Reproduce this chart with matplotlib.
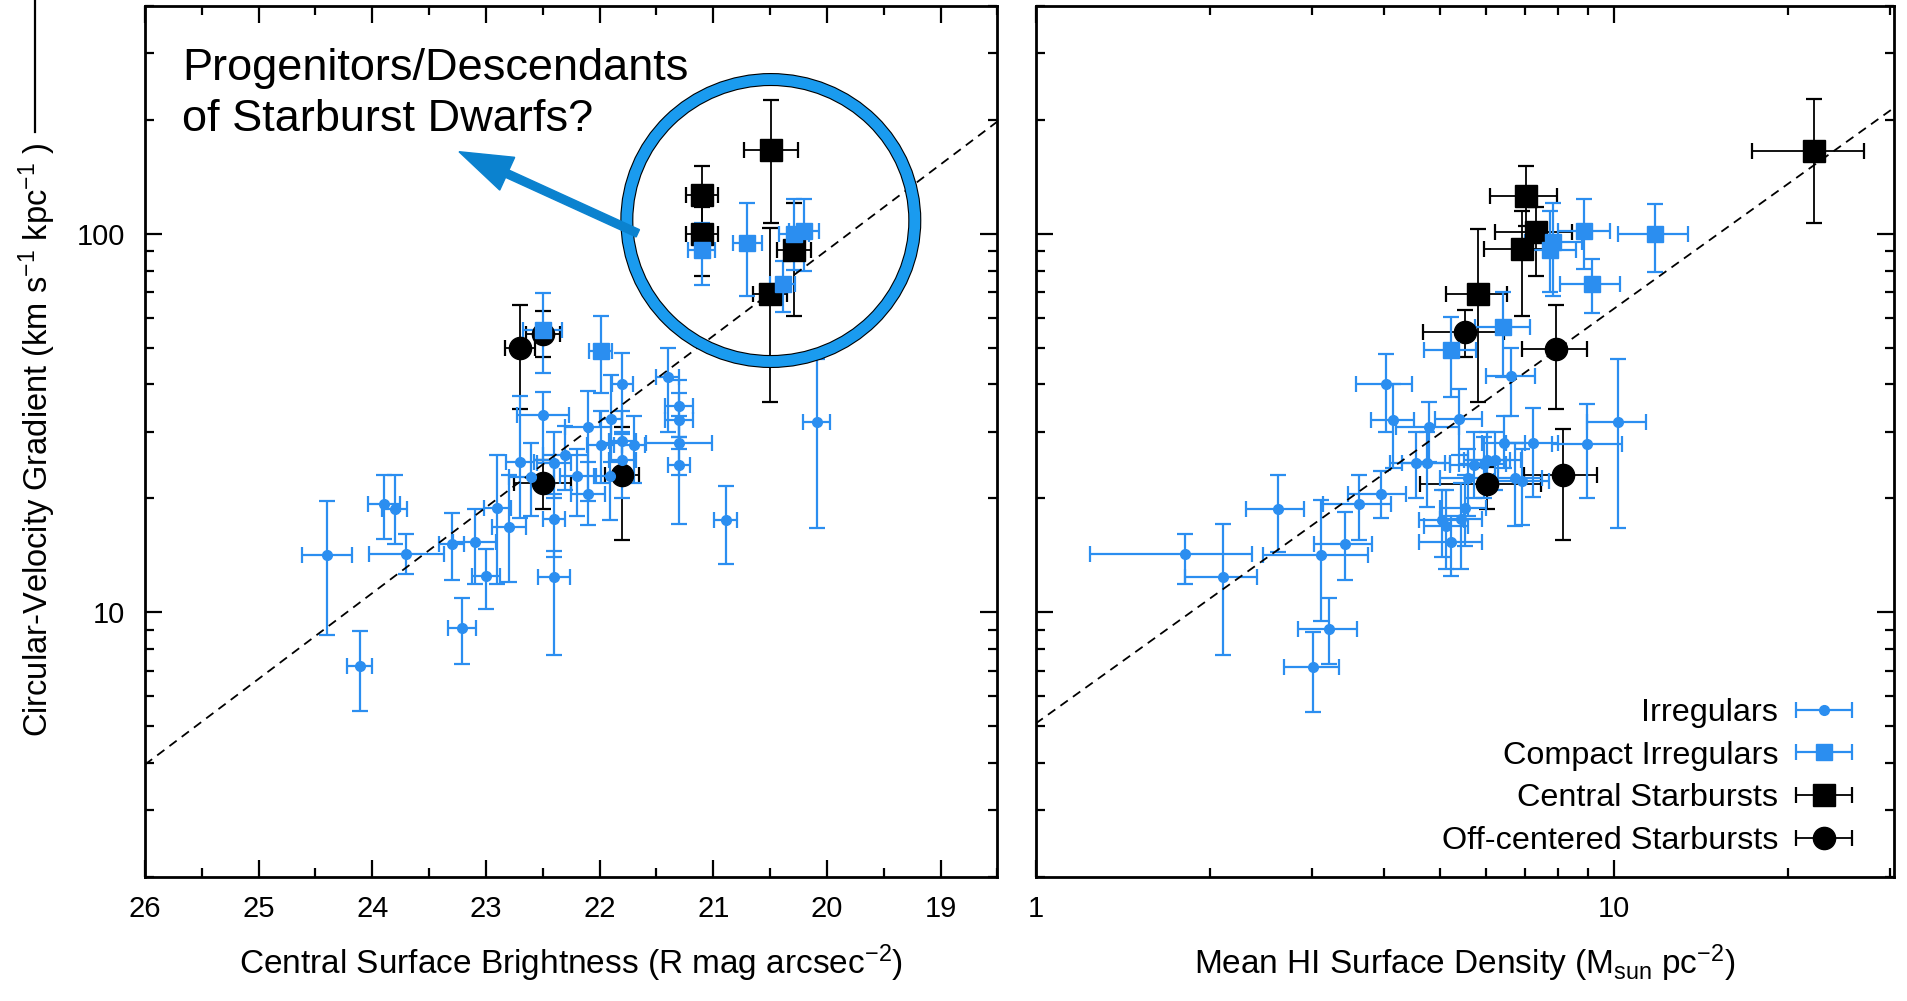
import numpy as np
import matplotlib
matplotlib.use("Agg")
import matplotlib.pyplot as plt
from matplotlib.patches import Ellipse, FancyArrow
from matplotlib.lines import Line2D
from matplotlib.container import ErrorbarContainer
from matplotlib.legend_handler import HandlerErrorbar
from matplotlib.ticker import FixedLocator, NullFormatter, FixedFormatter
from matplotlib.transforms import IdentityTransform

plt.rcParams['font.family'] = ['Liberation Sans', 'DejaVu Sans']
plt.rcParams['mathtext.fontset'] = 'custom'
plt.rcParams['mathtext.rm'] = 'Liberation Sans'
plt.rcParams['mathtext.it'] = 'Liberation Sans:italic'

BLUE = '#2b8ef0'

# ---- left panel: central surface brightness (R mag/arcsec^2) ----
irr_mu = [24.40, 24.11, 23.90, 23.80, 23.70, 23.30, 23.10, 23.00, 23.21, 22.90,
          22.80, 22.40, 22.40, 22.70, 22.60, 22.50, 22.40, 22.30, 22.20, 22.10,
          22.10, 21.99, 21.90, 21.91, 21.80, 21.80, 21.80, 21.70, 21.40, 21.30,
          21.30, 21.30, 21.30, 20.89, 20.09]
irr_mu_err = [0.22, 0.11, 0.14, 0.11, 0.33, 0.11, 0.19, 0.12, 0.12, 0.12,
              0.15, 0.14, 0.10, 0.12, 0.20, 0.23, 0.15, 0.20, 0.15, 0.15,
              0.20, 0.12, 0.10, 0.12, 0.09, 0.12, 0.12, 0.10, 0.10, 0.12,
              0.12, 0.29, 0.10, 0.10, 0.12]
irr_grad_a = [14.2, 7.2, 19.3, 18.8, 14.3, 15.2, 15.3, 12.5, 9.1, 18.9,
              16.8, 12.4, 17.6, 25.0, 22.8, 33.3, 24.8, 26.1, 22.9, 20.6,
              30.8, 27.7, 32.4, 22.9, 40.0, 28.4, 25.3, 27.7, 41.8, 35.0,
              32.3, 28.1, 24.5, 17.5, 31.8]
irr_grad_a_lo = [8.7, 5.5, 15.6, 15.2, 12.6, 12.2, 11.9, 10.2, 7.3, 11.9,
                 12.0, 7.7, 14.0, 17.8, 18.0, 25.2, 20.0, 21.0, 18.0, 17.0,
                 19.7, 22.0, 25.0, 17.5, 29.6, 23.0, 20.0, 22.0, 30.0, 29.0,
                 27.0, 23.0, 17.1, 13.4, 16.7]
irr_grad_a_hi = [19.7, 8.9, 23.1, 23.1, 16.1, 18.3, 18.7, 14.7, 10.9, 26.0,
                 23.0, 14.5, 20.5, 37.4, 28.0, 38.1, 30.0, 31.0, 27.0, 25.0,
                 38.4, 34.0, 42.3, 28.0, 48.3, 34.0, 30.0, 33.0, 50.0, 41.0,
                 38.0, 33.0, 29.0, 21.6, 46.8]

bcd_mu = [22.50, 21.99, 20.70, 21.10, 20.29, 20.20, 20.39]
bcd_mu_err = [0.17, 0.10, 0.13, 0.12, 0.13, 0.13, 0.11]
bcd_grad_a = [55.6, 49.0, 94.8, 90.4, 100.0, 102.0, 73.8]
bcd_grad_a_lo = [43.0, 38.0, 68.4, 73.4, 80.4, 80.0, 62.0]
bcd_grad_a_hi = [69.6, 60.5, 121.0, 107.0, 124.0, 124.0, 85.0]

csb_mu = [20.49, 21.10, 21.10, 20.29, 20.50]
csb_mu_err = [0.24, 0.14, 0.14, 0.15, 0.15]
csb_grad_a = [167.0, 126.5, 100.0, 90.8, 69.5]
csb_grad_a_lo = [106.6, 106.0, 77.6, 60.5, 35.9]
csb_grad_a_hi = [226.0, 151.0, 118.0, 121.0, 103.5]

osb_mu = [22.70, 22.50, 21.80, 22.50]
osb_mu_err = [0.13, 0.15, 0.15, 0.25]
osb_grad_a = [49.9, 54.5, 23.1, 21.9]
osb_grad_a_lo = [34.5, 47.2, 15.5, 18.7]
osb_grad_a_hi = [65.0, 62.7, 30.8, 25.3]

fit_mu = [26.0, 18.5]
fit_mu_grad = [3.96, 198.0]

# ---- right panel: mean HI surface density (Msun/pc^2) ----
irr_hi = [1.81, 2.11, 2.62, 3.12, 3.22, 3.02, 3.42, 3.62, 3.95, 4.03,
          4.14, 4.78, 4.55, 4.75, 5.40, 5.73, 5.60, 5.52, 5.03, 5.13,
          5.44, 5.22, 6.02, 6.22, 6.45, 6.74, 7.25, 8.97, 10.15, 6.63,
          6.92, 5.95]
irr_hi_lo = [1.24, 1.81, 2.31, 2.47, 2.84, 2.69, 3.03, 3.14, 3.47, 3.58,
             3.80, 4.20, 4.10, 4.30, 4.90, 5.20, 5.00, 5.00, 4.60, 4.70,
             5.00, 4.60, 5.50, 5.60, 5.90, 6.00, 6.50, 7.80, 8.97, 6.00,
             6.20, 5.40]
irr_hi_hi = [2.37, 2.41, 2.91, 3.76, 3.59, 3.34, 3.81, 4.12, 4.36, 4.47,
             4.50, 5.40, 5.10, 5.20, 5.90, 6.30, 6.30, 6.00, 5.50, 5.60,
             5.90, 5.90, 6.60, 6.90, 7.00, 7.50, 8.00, 10.30, 11.36, 7.30,
             7.70, 6.50]
irr_grad_b = [14.3, 12.4, 18.7, 14.2, 9.06, 7.18, 15.2, 19.3, 20.5, 40.0,
              32.2, 30.8, 24.8, 24.8, 32.4, 24.5, 22.7, 18.9, 17.5, 16.9,
              17.6, 15.3, 25.2, 25.2, 28.1, 22.6, 28.0, 27.9, 31.8, 42.0,
              22.3, 24.7]
irr_grad_b_lo = [11.9, 7.7, 14.4, 9.5, 7.3, 5.47, 12.2, 15.5, 17.8, 30.0,
                 24.0, 25.0, 20.0, 19.0, 26.0, 20.0, 18.0, 15.0, 14.0, 13.0,
                 13.0, 12.5, 21.0, 21.0, 24.0, 16.9, 20.2, 20.0, 16.7, 33.0,
                 17.0, 20.0]
irr_grad_b_hi = [16.1, 17.1, 23.1, 19.8, 10.9, 8.87, 18.4, 23.1, 23.6, 48.2,
                 40.0, 36.0, 30.0, 30.0, 39.0, 30.0, 27.0, 23.0, 21.0, 21.0,
                 22.0, 18.0, 30.0, 30.0, 33.0, 28.0, 34.6, 35.6, 46.8, 50.0,
                 27.0, 29.0]

bcd_hi = [7.85, 7.75, 8.85, 11.74, 9.15, 6.43, 5.22]
bcd_hi_lo = [7.00, 7.00, 8.01, 10.17, 8.07, 5.75, 4.69]
bcd_hi_hi = [8.80, 8.60, 9.84, 13.40, 10.24, 7.14, 5.78]
bcd_grad_b = [95.1, 90.4, 102.0, 99.7, 73.5, 56.6, 49.2]
bcd_grad_b_lo = [68.4, 70.0, 80.6, 79.3, 61.7, 41.8, 37.0]
bcd_grad_b_hi = [121.0, 115.0, 124.0, 120.0, 85.6, 70.2, 60.3]

csb_hi = [7.04, 7.33, 6.94, 5.82, 22.1]
csb_hi_lo = [6.10, 6.22, 5.96, 5.13, 17.3]
csb_hi_hi = [7.98, 8.45, 7.90, 6.54, 27.0]
csb_grad_b = [125.6, 101.0, 91.4, 69.5, 166.0]
csb_grad_b_lo = [105.0, 77.3, 60.6, 35.9, 107.0]
csb_grad_b_hi = [151.0, 118.0, 115.0, 103.0, 227.0]

osb_hi = [5.52, 7.94, 8.15, 6.02]
osb_hi_lo = [4.67, 6.92, 6.99, 4.61]
osb_hi_hi = [6.45, 8.97, 9.33, 7.48]
osb_grad_b = [55.0, 49.7, 23.1, 21.8]
osb_grad_b_lo = [47.2, 34.5, 15.5, 18.8]
osb_grad_b_hi = [62.8, 65.0, 30.6, 24.2]

fit_hi = [1.0, 30.4]
fit_hi_grad = [5.08, 215.0]

labels = ['Irregulars', 'Compact Irregulars', 'Central Starbursts', 'Off-centered Starbursts']


def asym(v, lo, hi):
    v = np.asarray(v)
    return [v - np.asarray(lo), np.asarray(hi) - v]


styles = {
    'irr': dict(fmt='o', color=BLUE, ms=7, elinewidth=1.6, capsize=6, capthick=1.6),
    'bcd': dict(fmt='s', color=BLUE, ms=12, elinewidth=1.6, capsize=6, capthick=1.6),
    'csb': dict(fmt='s', color='black', ms=16, elinewidth=1.3, capsize=6, capthick=1.6),
    'osb': dict(fmt='o', color='black', ms=16, elinewidth=1.3, capsize=6, capthick=1.6),
}

fig = plt.figure(figsize=(19.07, 10.01), dpi=100)
ax1 = fig.add_axes([0.076, 0.124, 0.447, 0.870])
ax2 = fig.add_axes([0.543, 0.124, 0.450, 0.870])

# left panel
ax1.errorbar(csb_mu, csb_grad_a, xerr=csb_mu_err, yerr=asym(csb_grad_a, csb_grad_a_lo, csb_grad_a_hi), **styles['csb'])
ax1.errorbar(osb_mu, osb_grad_a, xerr=osb_mu_err, yerr=asym(osb_grad_a, osb_grad_a_lo, osb_grad_a_hi), **styles['osb'])
ax1.errorbar(irr_mu, irr_grad_a, xerr=irr_mu_err, yerr=asym(irr_grad_a, irr_grad_a_lo, irr_grad_a_hi), **styles['irr'])
ax1.errorbar(bcd_mu, bcd_grad_a, xerr=bcd_mu_err, yerr=asym(bcd_grad_a, bcd_grad_a_lo, bcd_grad_a_hi), **styles['bcd'])
ax1.plot(fit_mu, fit_mu_grad, color='black', lw=1.3, ls=(0, (5, 3.5)))

# right panel
ax2.errorbar(csb_hi, csb_grad_b, xerr=asym(csb_hi, csb_hi_lo, csb_hi_hi), yerr=asym(csb_grad_b, csb_grad_b_lo, csb_grad_b_hi), **styles['csb'])
ax2.errorbar(osb_hi, osb_grad_b, xerr=asym(osb_hi, osb_hi_lo, osb_hi_hi), yerr=asym(osb_grad_b, osb_grad_b_lo, osb_grad_b_hi), **styles['osb'])
ax2.errorbar(irr_hi, irr_grad_b, xerr=asym(irr_hi, irr_hi_lo, irr_hi_hi), yerr=asym(irr_grad_b, irr_grad_b_lo, irr_grad_b_hi), **styles['irr'])
ax2.errorbar(bcd_hi, bcd_grad_b, xerr=asym(bcd_hi, bcd_hi_lo, bcd_hi_hi), yerr=asym(bcd_grad_b, bcd_grad_b_lo, bcd_grad_b_hi), **styles['bcd'])
ax2.plot(fit_hi, fit_hi_grad, color='black', lw=1.3, ls=(0, (5, 3.5)))

# legend proxies with horizontal bars only
handles = []
for key, lab in zip(['irr', 'bcd', 'csb', 'osb'], labels):
    h = ax2.errorbar([np.nan], [np.nan], xerr=[1.0], label=lab, **styles[key])
    handles.append(h)
ax2.legend(handles=handles, loc='lower right', bbox_to_anchor=(0.953, 0.024),
           frameon=False, markerfirst=False, fontsize=23.3, borderpad=0,
           borderaxespad=0, labelspacing=0.39, handletextpad=0.52, handlelength=1.8,
           handler_map={ErrorbarContainer: HandlerErrorbar(xerr_size=0.87)})

minor_y = [m * 10 ** e for e in range(0, 3) for m in range(2, 10)]
for ax in (ax1, ax2):
    ax.set_yscale('log')
    ax.set_ylim(2, 400)
    ax.yaxis.set_major_locator(FixedLocator([10, 100]))
    ax.yaxis.set_minor_locator(FixedLocator(minor_y))
    ax.yaxis.set_minor_formatter(NullFormatter())
    ax.tick_params(which='both', direction='in', top=True, right=True, width=1.6, labelsize=21)
    ax.tick_params(which='major', length=12)
    ax.tick_params(which='minor', length=6.5)
    ax.tick_params(axis='x', pad=13)
    ax.tick_params(axis='y', pad=14)
    for s in ax.spines.values():
        s.set_linewidth(2.0)

ax1.set_xlim(26, 18.5)
ax1.xaxis.set_major_locator(FixedLocator([26, 25, 24, 23, 22, 21, 20, 19]))
ax1.xaxis.set_major_formatter(FixedFormatter(['26', '25', '24', '23', '22', '21', '20', '19']))
ax1.xaxis.set_minor_locator(FixedLocator(np.arange(18.5, 26, 1.0)))
ax1.yaxis.set_major_formatter(FixedFormatter(['10', '100']))

ax2.set_xscale('log')
ax2.set_xlim(1, 30.4)
ax2.xaxis.set_major_locator(FixedLocator([1, 10]))
ax2.xaxis.set_major_formatter(FixedFormatter(['1', '10']))
ax2.xaxis.set_minor_locator(FixedLocator([2, 3, 4, 5, 6, 7, 8, 9, 20, 30]))
ax2.xaxis.set_minor_formatter(NullFormatter())
ax2.yaxis.set_major_formatter(NullFormatter())

ax1.set_xlabel(r'Central Surface Brightness (R mag arcsec$^{\mathregular{-2}}$)', fontsize=24, labelpad=14)
ax2.set_xlabel(r'Mean HI Surface Density (M$_{\mathregular{sun}}$ pc$^{\mathregular{-2}}$)', fontsize=24, labelpad=14)
ax1.set_ylabel(r'Circular-Velocity Gradient (km s$^{\mathregular{-1}}$ kpc$^{\mathregular{-1}}$ )', fontsize=23.5)
ax1.yaxis.set_label_coords(-0.102, 0.502)

# highlight ring around the starburst group
fig.patches.append(Ellipse((0.4042, 0.7797), 0.151, 0.2817, transform=fig.transFigure,
                           fill=False, edgecolor='black', lw=9.4, zorder=10))
fig.patches.append(Ellipse((0.4042, 0.7797), 0.151, 0.2817, transform=fig.transFigure,
                           fill=False, edgecolor='#1a9bef', lw=7.8, zorder=11))
fig.patches.append(FancyArrow(637.8, 1001 - 233.3, -178.8, 81.6, width=8, head_width=36,
                              head_length=53, length_includes_head=True,
                              color='#0b82cf', transform=IdentityTransform(), zorder=12))
fig.text(0.0954, 0.920, 'Progenitors/Descendants', fontsize=32.5, va='baseline')
fig.text(0.0954, 0.869, 'of Starburst Dwarfs?', fontsize=32.5, va='baseline')

fig.lines.append(Line2D([35 / 1907, 35 / 1907], [1.0, 1 - 132 / 1001], color='black',
                        lw=1.6, transform=fig.transFigure))

fig.savefig('out.png', dpi=100)
